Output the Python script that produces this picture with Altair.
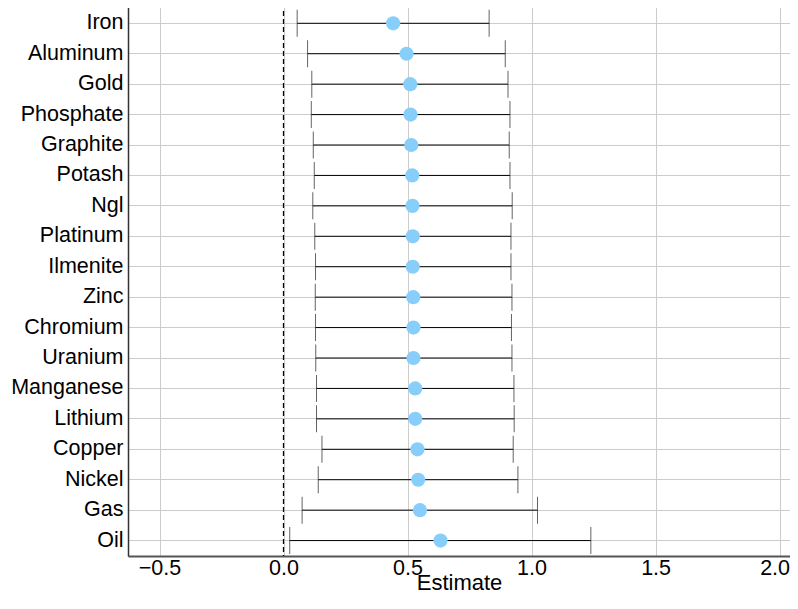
import altair as alt
import pandas as pd

minerals = ["Iron", "Aluminum", "Gold", "Phosphate", "Graphite", "Potash", "Ngl",
            "Platinum", "Ilmenite", "Zinc", "Chromium", "Uranium", "Manganese",
            "Lithium", "Copper", "Nickel", "Gas", "Oil"]
estimate = [0.442, 0.496, 0.511, 0.512, 0.515, 0.519, 0.520, 0.521, 0.521, 0.523,
            0.524, 0.524, 0.531, 0.531, 0.540, 0.543, 0.550, 0.633]
lower = [0.055, 0.097, 0.114, 0.112, 0.120, 0.124, 0.118, 0.126, 0.129, 0.128,
         0.129, 0.130, 0.133, 0.133, 0.155, 0.140, 0.075, 0.025]
upper = [0.829, 0.894, 0.905, 0.913, 0.910, 0.913, 0.922, 0.917, 0.917, 0.921,
         0.919, 0.921, 0.929, 0.930, 0.926, 0.945, 1.024, 1.239]
x_ticks = [-0.5, 0.0, 0.5, 1.0, 1.5, 2.0]
x_domain = [-0.627, 2.042]

df = pd.DataFrame({"Mineral": minerals, "Estimate": estimate, "lower": lower, "upper": upper})
zero_df = pd.DataFrame({"zero": [0.0]})

FONT = "Liberation Sans"
xscale = alt.Scale(domain=x_domain, nice=False, zero=False)
xaxis = alt.Axis(
    values=x_ticks,
    format=".1f",
    labelOffset={"condition": {"test": "datum.value >= 2", "value": -5}, "value": 0},
)
yscale = alt.Scale(type="band", paddingInner=0, paddingOuter=0.087, align=0.96)
yenc = alt.Y("Mineral:N", sort=minerals, scale=yscale, title=None)


def xenc(field):
    return alt.X(field, scale=xscale, axis=xaxis, title="Estimate")


base = alt.Chart(df)

bars = base.mark_rule(color="black", strokeWidth=1).encode(
    x=xenc("lower:Q"), x2="upper:Q", y=yenc,
)
cap_lo = base.mark_tick(color="#222222", size=27, thickness=1).encode(
    x=xenc("lower:Q"), y=yenc,
)
cap_hi = base.mark_tick(color="#222222", size=27, thickness=1).encode(
    x=xenc("upper:Q"), y=yenc,
)
zero_line = alt.Chart(zero_df).mark_rule(color="black", strokeWidth=1.3, strokeDash=[5, 3]).encode(
    x=xenc("zero:Q"),
)
dots = base.mark_circle(size=201, color="#87CEFA", opacity=1).encode(
    x=xenc("Estimate:Q"), y=yenc,
)

chart = alt.layer(zero_line, bars, cap_lo, cap_hi, dots).properties(
    width=662,
    height=553,
    autosize=alt.AutoSizeParams(type="none"),
    padding={"left": 120, "top": -5, "right": 0, "bottom": 41},
).configure_view(
    stroke=None
).configure_axis(
    labelFont=FONT,
    titleFont=FONT,
    labelColor="black",
    titleColor="black",
    gridColor="#cccccc",
    gridWidth=1,
    ticks=False,
    domainColor="#333333",
    domainWidth=1.5,
).configure_axisX(
    labelFontSize=21.5,
    labelPadding=1,
    titleFontSize=22,
    titleFontWeight="normal",
    titlePadding=-6,
    domainColor="#555555",
    domainWidth=2,
).configure_axisY(
    labelFontSize=21.5,
    labelPadding=5,
    labelLimit=0,
    grid=True,
    bandPosition=0.5,
)

chart.save("out.html", embed_options={"renderer": "svg", "actions": False})
